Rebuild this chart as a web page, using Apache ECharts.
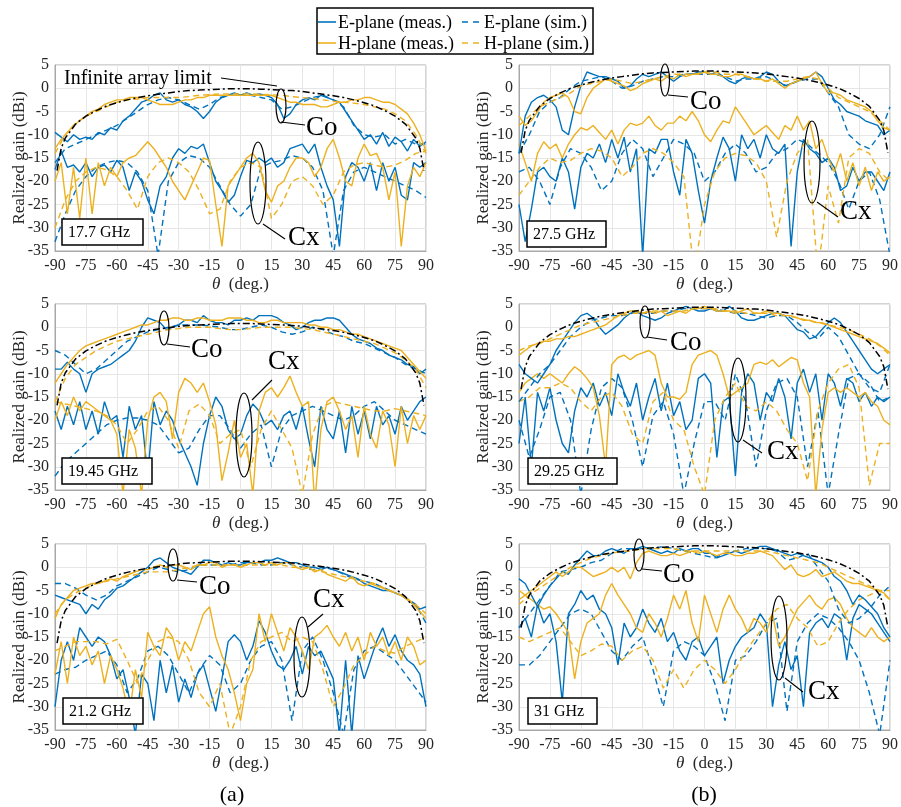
<!DOCTYPE html>
<html>
<head>
<meta charset="utf-8">
<script src="https://cdn.jsdelivr.net/npm/echarts@6/dist/echarts.min.js"></script>
<style>
  html, body { margin: 0; padding: 0; background: #fff; }
  #chart { width: 901px; height: 807px; }
</style>
</head>
<body>
<div id="chart"></div>
<script>
// angle grids (deg.)
const thM = [-90,-87,-84,-81,-78,-75,-72,-69,-66,-63,-60,-57,-54,-51,-48,-45,-42,-39,-36,-33,
  -30,-27,-24,-21,-18,-15,-12,-9,-6,-3,0,3,6,9,12,15,18,21,24,27,
  30,33,36,39,42,45,48,51,54,57,60,63,66,69,72,75,78,81,84,87,90];
const thS = [-90,-85,-80,-75,-70,-65,-60,-55,-50,-45,-40,-35,-30,-25,-20,-15,-10,-5,0,5,
  10,15,20,25,30,35,40,45,50,55,60,65,70,75,80,85,90];
const thL = [-89,-87,-85,-80,-75,-70,-65,-60,-55,-50,-45,-40,-35,-30,-25,-20,-15,-10,-5,0,
  5,10,15,20,25,30,35,40,45,50,55,60,65,70,75,80,85,87,89];

// ---- 17.7 GHz ----
const p1_lim = [-17.7,-12.9,-10.7,-7.7,-6.0,-4.8,-3.8,-3.1,-2.5,-2.0,-1.6,-1.3,-1.0,-0.7,-0.5,-0.4,-0.3,-0.2,-0.1,-0.1,
  -0.1,-0.2,-0.3,-0.4,-0.5,-0.7,-1.0,-1.3,-1.6,-2.0,-2.5,-3.1,-3.8,-4.8,-6.0,-7.7,-10.7,-12.9,-17.7];
const p1_eCoM = [-9.5,-10.5,-11.5,-10,-11,-10.5,-11,-9.5,-10,-8.5, -9,-7,-6,-4.5,-3,-2.5,-1.5,-1,-2.5,-3,
  -2.5,-3.5,-4,-5,-6.5,-5,-3,-2,-1.5,-1, -1.5,-1,-1.5,-1.2,-1.5,-2,-3.5,-6.5,-5.5,-3.5,
  -2.5,-2,-2.5,-1.5,-2,-2.5,-3,-5,-7,-9, -11,-10,-12,-9.5,-12.5,-10.5,-11.5,-13.5,-11,-12.5, -11.5];
const p1_hCoM = [-13,-11,-9.5,-8,-7,-6,-5,-4.5,-3.5,-3, -2.5,-2.5,-2,-2,-2,-2.5,-3,-3.5,-3.5,-3.5,
  -3,-2.5,-2.5,-2,-2,-1.5,-1.5,-1.5,-1.5,-1.5, -1.5,-1.5,-1.5,-1.5,-1.5,-1.5,-2,-2.5,-3,-3,
  -3.5,-3.5,-3.5,-4,-4,-3.5,-3,-3,-2.5,-2.5, -2,-2,-2.5,-3,-3,-3.5,-4.5,-5.5,-7.5,-10, -13.5];
const p1_eCoS = [-16,-13,-12,-11,-10,-9,-8,-6.5,-5,-3.5, -2.5,-2,-2.5,-3.5,-4.5,-3.5,-2,-1.5,-1.5,-1.5,
  -2,-2.5,-4.5,-4,-3,-2,-1.5,-2.5,-4,-8, -10,-10.5,-10,-12,-11,-12,-12];
const p1_hCoS = [-14,-10,-7.5,-6,-5,-4,-3,-2.5,-2.3,-2, -2,-2,-2,-1.8,-1.5,-1.4,-1.2,-1.2,-1.2,-1.2,
  -1.3,-1.4,-1.5,-1.8,-2,-2.2,-2.5,-2.8,-3,-3.2, -3.5,-4,-4.5,-5.5,-7,-10,-14];
const p1_eCxM = [-17.5,-13.5,-17,-16.5,-18,-16,-19,-17,-16.5,-18, -15.5,-17,-22,-18,-20,-24,-27,-21,-19,-15,
  -13,-14,-12.5,-13,-12,-16,-20,-22,-24.5,-23, -19,-15.5,-16,-15,-16,-15,-17,-16,-13,-12.5,
  -12,-14,-12,-17,-21,-24,-34,-19,-16,-17, -20,-16,-22,-16,-20,-17,-23,-24,-16,-17, -16];
const p1_hCxM = [-20,-16,-27,-17,-28,-15,-27,-16,-21,-17, -19,-16,-15,-14.5,-13,-11.5,-13,-15,-17,-20,
  -22,-24,-21,-18,-15,-15.5,-25,-34,-21,-19, -17,-15,-14,-16,-22,-24.5,-21,-20,-17,-15,
  -15,-16,-19,-17,-13,-11,-15,-20,-21,-15, -12,-14.5,-14,-17,-24,-18,-34,-21,-17,-19, -16];
const p1_eCxS = [-33,-27,-22,-19,-17,-16,-15.5,-16,-18,-22, -36,-20,-16,-14.5,-15,-17,-21,-25,-27.5,-25,
  -17,-16,-15.5,-14.5,-15,-17,-22,-36,-22,-18, -17,-18,-19,-20,-21,-22,-23.5];
const p1_hCxS = [-30,-24,-20,-18,-17,-17.5,-19,-22,-26,-19, -16,-15,-16,-18,-22,-27,-26,-20,-17,-16,
  -17,-28,-25,-20,-19,-21,-25,-23,-18,-16.5, -16,-16.5,-17,-16.5,-15.5,-14,-13.5];

// ---- 27.5 GHz ----
const p2_lim = [-13.9,-9.1,-6.9,-3.9,-2.2,-1.0,0.0,0.7,1.3,1.8,2.2,2.5,2.8,3.1,3.3,3.4,3.5,3.6,3.7,3.7,
  3.7,3.6,3.5,3.4,3.3,3.1,2.8,2.5,2.2,1.8,1.3,0.7,0.0,-1.0,-2.2,-3.9,-6.9,-9.1,-13.9];
const p2_eCoM = [-14,-6,-3,-2,-1.5,-2.5,-4,-9,-10,-4, 0.5,3.5,3,2.5,2.5,2,1.5,0,0.5,2,
  3,2.5,3,3.5,2.5,1.5,2.5,3,3,3.5, 3.5,3,3.5,2.5,1.5,1,2,2.5,2,2.5,
  3.5,3,1.5,0.5,1,1.5,2,2.5,3.5,2.5, 0,-2.5,-3.5,-5,-5.5,-6,-7,-7.5,-8,-10, -9];
const p2_hCoM = [-6,-8,-7,-5,-3,-2,-1.5,-1,-2,-5, -5.5,-2,0,1,2,1.5,1,0.5,-0.5,0,
  1,1.5,2,1.5,2.5,2,3,2.5,3,3, 3.5,3,3,2.5,2.5,3,3,2.5,2,2,
  1.5,2,1,0,1,1.5,2,2.5,3.5,1, -1,-1,-1.5,-2.5,-3,-3.5,-4,-5,-7,-8.5, -9];
const p2_eCoS = [-14,-10,-5,-3,-2,0,1.5,2,2.5,1.5, 0,0.5,1.5,2,2.5,2.5,3,3,3,3,
  2.5,1.5,2,2,2.5,1.5,0.5,1.5,2,2, -1,-4,-10,-12,-13,-10,-4];
const p2_hCoS = [-8,-6,-4,-3,-2,-1,0.5,1,1.5,2, 1.5,1,1.5,2,2.5,3,3,3,3.5,3.5,
  3,3,2.5,2,1.5,1.5,1.5,2,2.5,2, 0,-2,-3,-4,-5,-7,-9];
const p2_eCxM = [-25,-33,-26,-18,-17,-19,-20,-15,-18,-26, -17,-14,-15,-12,-16,-11,-15,-10.5,-18,-13,
  -36,-13,-14,-11,-11,-18,-23,-11,-14,-22, -29,-20,-15,-10.5,-13,-20,-10,-13,-11,-15,
  -10,-13,-14,-12,-34,-18,-11,-13,-14,-16, -15,-17,-22,-21,-17,-20,-18,-18,-20,-22, -18];
const p2_hCxM = [-12,-16,-20,-14,-11.5,-13,-12,-15,-12,-10, -8.5,-9,-8,-9.5,-11,-9,-12,-9,-7.5,-8,
  -7.5,-6,-8,-9,-7.5,-7.5,-6,-7,-5,-7, -10,-11.5,-9,-7,-7.5,-4,-6,-8,-10,-9,
  -8,-9.5,-11,-8,-9,-6,-9,-7,-13,-11, -15,-18,-14,-20,-16,-21,-17,-22,-18,-20, -19];
const p2_eCxS = [-18,-17,-20,-25,-17,-13,-14,-17,-22,-20, -14,-11,-13,-19,-15,-11,-12,-14,-20,-18,
  -14,-12,-14,-18,-17,-14,-13,-11,-12,-14, -16,-20,-26,-20,-18,-24,-36];
const p2_hCxS = [-23,-20,-17,-15,-16,-15.5,-14,-13,-13.5,-15, -19,-17,-14,-13,-14,-16,-19,-40,-25,-18,
  -15,-14,-14.5,-16,-20,-32,-20,-14,-11,-40, -21,-29,-15,-13,-14,-18,-20];

// ---- 19.45 GHz ----
const p3_lim = [-16.8,-12.0,-9.8,-6.8,-5.1,-3.9,-2.9,-2.2,-1.6,-1.1,-0.7,-0.4,-0.1,0.2,0.4,0.5,0.6,0.7,0.8,0.8,
  0.8,0.7,0.6,0.5,0.4,0.2,-0.1,-0.4,-0.7,-1.1,-1.6,-2.2,-2.9,-3.9,-5.1,-6.8,-9.8,-12.0,-16.8];
const p3_eCoM = [-9,-9,-7.5,-9,-10,-14,-10,-9,-8.5,-8, -7,-6,-5,-3,0,2,1.5,1,-0.5,0,
  0.5,1.5,1.5,1,2.5,1.5,1,1,0.5,1.5, 1.5,2,1.5,2.5,2.5,2.5,2,1,0.5,-0.5,
  0,1,1.5,1.5,2,2,1.5,0,-1.5,-2.5, -3,-3.5,-4.5,-5,-6,-6.5,-7,-8,-8.5,-10, -9];
const p3_hCoM = [-12,-10,-8,-6.5,-5,-4,-3.5,-3,-2.5,-2, -1.5,-1,-0.5,0,0.5,0.5,1,1.5,1.5,2,
  2,1.5,1.5,2,2,1.5,1.5,1.5,2,2, 2,1.5,1.5,1,1,1.5,1.5,1,1,1,
  1,0.5,0.5,0,0,-0.5,-0.5,-1,-1.5,-1.5, -2,-2.5,-3,-3.5,-4,-4.5,-5,-6.5,-8,-9.5, -11];
const p3_eCoS = [-5,-6,-8,-10,-9,-7,-5,-3,-2,-1, -0.5,0,0.5,0.5,0.5,0.3,0,-0.5,-0.5,0,
  0.5,0,-1,-1.5,-1,0,-0.5,-1.5,-2,-3, -3.5,-4.5,-5.5,-6.5,-8,-9,-10];
const p3_hCoS = [-16,-11,-8,-6.5,-5,-4,-3,-2.5,-2,-1.5, -1,-0.5,-0.3,0,0,0,-0.3,-0.5,-0.5,-0.3,
  0,0,0,0,-0.3,-0.5,-1,-1.5,-2,-2.5, -3,-3.5,-4.5,-5.5,-7,-9,-13];
const p3_eCxM = [-18,-22,-17,-21,-16,-22,-18,-23,-16,-20, -19,-28,-17,-22,-19,-32,-16,-21,-18,-20,
  -24,-27,-30,-34,-25,-19,-15,-17,-22,-24, -23,-19,-16.5,-18,-21,-20,-22,-19,-18,-22,
  -17,-24,-30,-17,-22,-24,-18,-27,-17,-23, -18,-24,-17,-21,-19,-23,-17,-20,-18,-16, -15];
const p3_hCxM = [-20,-16,-19,-15,-18,-16,-17,-18,-19,-20, -23,-36,-22,-26,-36,-20,-15,-14,-16,-24,
  -14,-11,-12,-14,-12,-16,-21,-33,-27,-20, -28,-25,-36,-18,-14,-13,-15,-13,-10.5,-14,
  -17,-16,-38,-22,-16,-15,-18,-22,-19,-28, -17,-23,-26,-18,-21,-30,-17,-25,-19,-22, -19];
const p3_eCxS = [-32,-29,-27,-25,-23,-21,-20,-19.5,-19.5,-20, -21,-24,-27,-26,-22,-19,-19,-22,-26,-23,
  -21,-30,-22,-19,-18,-17,-18,-19,-20,-19, -17,-16,-18,-20,-21,-22,-23];
const p3_hCxS = [-16,-16.5,-17,-17.5,-18,-19,-21,-25,-22,-18, -17,-20,-26,-18,-16.5,-19,-25,-23,-22,-30,
  -22,-18,-22,-26,-36,-23,-17,-16,-16.5,-17, -17.5,-18,-18,-17.5,-18,-18.5,-19];

// ---- 29.25 GHz ----
const p4_lim = [-13.3,-8.5,-6.3,-3.3,-1.6,-0.4,0.6,1.3,1.9,2.4,2.8,3.1,3.4,3.7,3.9,4.0,4.1,4.2,4.3,4.3,
  4.3,4.2,4.1,4.0,3.9,3.7,3.4,3.1,2.8,2.4,1.9,1.3,0.6,-0.4,-1.6,-3.3,-6.3,-8.5,-13.3];
const p4_eCoM = [-8,-10,-11,-12,-10,-8,-5,-3,-1,1, 2.5,3,2,0,-1.5,-0.5,0.5,2,3,3.5,
  2.5,2,1.5,2,3,3.5,4,4.5,4,3.5, 3.5,4,3.5,3.5,4.5,3.5,2,1.5,1.5,2,
  2.5,3,3,2.5,1,-0.5,-1,-2.5,-2,-0.5, 1,2,1,-1,-3,-5,-7,-9,-10,-9, -8];
const p4_hCoM = [-6,-5,-4,-3.5,-3,-3,-2.5,-2.5,-2,-2, -1.5,-1,-0.5,0,0.5,1.5,2.5,3,3.5,3.5,
  3,3.5,3,3.5,2.5,3,3.5,3,4,4, 4.5,4,3.5,3.5,3.5,3,3.5,4,3,3,
  3.5,3,3,2.5,2.5,2,1.5,1.5,1,1, 0.5,0,-0.5,-1,-1.5,-2,-2.5,-3,-3.5,-4.5, -5.5];
const p4_eCoS = [-16,-13,-10,-8,-5,-2,0,1.5,2,2.5, 2.5,3,3,3,3.5,3.5,4,4,4,4,
  3.5,3,3,2.5,2,2.5,2.5,1,-1,-2.5, 0,-2,-6,-10,-13,-14,-8];
const p4_hCoS = [-5,-4,-3.5,-2.5,-1.5,-0.5,0.5,1,1.5,2, 2.5,3,3,3.5,3.5,3.5,3.5,4,4,4,
  3.5,3.5,3,3,3,2.5,2.5,2,1.5,1, 0.5,0,-0.5,-1.5,-2.5,-4,-6];
const p4_eCxM = [-25,-15,-30,-14,-18,-13,-20,-25,-27,-18, -13,-15,-12,-17,-14,-19,-10,-14,-17,-12,
  -20,-15,-11,-18,-12,-19,-16,-22,-20,-11, -10,-12,-28,-16,-15,-32,-14,-10,-12,-20,
  -14,-16,-11,-15,-24,-12,-9,-14,-10,-20, -10,-12,-17,-11,-12,-16,-14,-17,-15,-16, -15];
const p4_hCxM = [-14,-12,-11,-10,-11,-10,-11,-12,-10,-8.5, -9.5,-11,-13,-19,-30,-8,-6.5,-6,-7,-6,
  -5.5,-5,-6,-12,-15,-15,-15.5,-14,-8,-6, -5.5,-5,-6,-10,-15,-14,-13,-12,-8,-7.5,
  -8,-7,-8.5,-7.5,-6.5,-7,-12,-15,-36,-22, -14,-13,-14,-13,-14,-15,-14,-16,-17,-20, -21];
const p4_eCxS = [-20,-28,-22,-15,-14,-20,-36,-22,-13,-11, -13,-20,-30,-19,-16,-23,-36,-25,-16,-16,
  -20,-10,-16,-30,-18,-12,-11,-15,-30,-18, -36,-23,-11,-10,-12,-16,-15];
const p4_hCxS = [-16,-15,-13,-13,-12,-13,-16,-18,-15,-14, -17,-23,-25,-16,-14,-20,-22,-30,-36,-20,
  -15,-12,-17,-18,-16,-18,-22,-25,-33,-18, -12,-9,-8,-13,-34,-25,-25];

// ---- 21.2 GHz ----
const p5_lim = [-16.3,-11.5,-9.3,-6.3,-4.6,-3.4,-2.4,-1.7,-1.1,-0.6,-0.2,0.1,0.4,0.7,0.9,1.0,1.1,1.2,1.3,1.3,
  1.3,1.2,1.1,1.0,0.9,0.7,0.4,0.1,-0.2,-0.6,-1.1,-1.7,-2.4,-3.4,-4.6,-6.3,-9.3,-11.5,-16.3];
const p5_eCoM = [-6,-6.5,-7,-7.5,-8,-10,-8,-9,-7,-6, -4.5,-4,-3,-2,-1,0,1.5,2,1,0,
  -0.5,-1,-1.5,0,1.5,1.5,1,0.5,1,0.5, 0.5,1,1,1,1.5,1.5,2,1.5,1,1,
  0.5,0,0,-0.5,0,-0.5,-1,-1.5,-2,-2.5, -3.5,-4,-4.5,-5,-5,-5.5,-6,-7,-8,-9, -8.5];
const p5_hCoM = [-11,-8,-6.5,-5,-4.5,-4,-3.5,-3.5,-3,-2.5, -3,-2,-1.5,-1,-0.5,-0.5,0,0.5,0,0.5,
  0.5,0,-0.5,0.5,0.5,1,1,0,0.5,0.5, 0,0.5,1,1,0.5,1,0.5,1,1,0,
  -0.5,0,-1,-0.5,-1.5,-2,-2.5,-3,-2,-3.5, -4,-3.5,-4,-4.5,-5,-5.5,-6,-7,-8,-9.5, -11];
const p5_eCoS = [-3.5,-3.5,-4.5,-6,-7,-6,-4,-3,-2,-1, 0,-0.5,-1,-0.5,0.5,0.5,0.5,0.5,1,1,
  0.5,0.5,1,0.5,0,-0.5,0,-0.5,-1.5,-2.5, -3,-3.5,-4.5,-5.5,-6.5,-8,-12];
const p5_hCoS = [-10,-7,-5.5,-4.5,-3.5,-3,-2.5,-2,-1.5,-1, -1,-1,-0.5,0,0.5,0.5,0.5,0.5,0.5,0.5,
  0.5,0.5,0.5,0,0,-0.5,-1,-1.5,-2,-2.5, -3,-3.5,-4.5,-5.5,-6.5,-8,-10];
const p5_eCxM = [-30,-20,-16,-20,-13,-15,-17,-15,-16,-19, -24,-22,-28,-36,-23,-25,-33,-20,-27,-21,
  -29,-24,-28,-23,-21,-26,-31,-24,-16,-14.5, -16,-20,-17,-11.5,-14,-18,-21,-22,-20,-17,
  -23,-17,-19,-18,-21,-24,-36,-20,-36,-19, -24,-20,-16,-13,-17,-14.5,-18,-20,-21,-23, -30];
const p5_hCxM = [-23,-16,-25,-15,-19,-17,-21,-18,-25,-19, -22,-26,-32,-22,-28,-14,-17,-19,-13,-15,
  -20,-16,-18,-14,-10,-8.5,-15,-19,-22,-27, -33,-25,-22,-10,-16,-10,-14,-18,-13,-15,
  -18,-22,-15,-14,-12.5,-15,-17,-14,-18,-15, -20,-14,-17,-15,-19,-16,-20,-15,-17,-21, -20];
const p5_eCxS = [-23,-22,-21.5,-20,-19,-18,-21,-27,-24,-18, -17,-19,-23,-27,-22,-19,-21,-27,-25,-20,
  -17,-16,-20,-33,-18,-15,-20,-27,-36,-22, -18,-17,-18.5,-20,-23,-26,-29];
const p5_hCxS = [-18,-17,-16,-16,-16,-16.5,-15.5,-20,-25,-20, -16,-15,-16,-20,-27,-30,-25,-36,-30,-20,
  -16,-15,-14,-16,-15,-16,-22,-30,-26,-21, -19,-17,-18,-18.5,-17,-16,-15];

// ---- 31 GHz ----
const p6_lim = [-13.0,-8.2,-6.0,-3.0,-1.3,-0.1,0.9,1.6,2.2,2.7,3.1,3.4,3.7,4.0,4.2,4.3,4.4,4.5,4.6,4.6,
  4.6,4.5,4.4,4.3,4.2,4.0,3.7,3.4,3.1,2.7,2.2,1.6,0.9,-0.1,-1.3,-3.0,-6.0,-8.2,-13.0];
const p6_eCoM = [-2.5,-3.5,-6,-8.5,-6,-4,-2.5,-1,-1.5,0.5, 2,3.5,2.5,2.5,3.5,4,3.5,3,4,4,
  4.5,4,3.5,3,3.5,3,4,3.5,4,4, 3,3,2,2.5,3,3.5,3,3.5,4,4.5,
  4.5,4,3.5,3,2.5,3,2.5,2,1.5,1, 0,-2,-3,-5,-8,-6,-7,-8.5,-10,-13, -15];
const p6_hCoM = [-7,-6,-5,-4,-3,-2,-1,-2,-1,0, 0,-1,-2,-1.5,-1,0,-1,0,-2.5,1,
  3,3.5,3,2.5,2.5,3,2.5,3,3.5,3, 3.5,3,2.5,3,3,2.5,2.5,3,3,3.5,
  3,2.5,1,-0.5,0.5,-1.5,-2,-1.5,-0.5,-2, -1.5,-1,-2,-3,-3.5,-3.5,-4,-4.5,-5,-5.5, -7];
const p6_eCoS = [-13,-10,-7,-4,-1,-0.5,0,1,1.5,3, 4,4,4,4,4.5,4,3.5,3,2.5,2,
  3,3.5,4,4,4,3.5,1.5,2,3,0, -3,-9,-12,-11,-9,-6,-4];
const p6_hCoS = [-8,-6,-4.5,-3,-1.5,0,1,2,2.5,3, 3.5,3.5,4,4,4,4,3.5,3.5,3.5,3.5,
  3.5,3.5,3.5,3.5,3.5,3,2.5,2,1.5,1, 0,-1,-2,-3,-4,-5,-7];
const p6_eCxM = [-13,-11,-15,-8,-12,-10,-16,-29,-10,-8, -5,-7,-6,-9,-10,-13,-21,-12,-15,-13,
  -9,-12,-14,-11,-16,-14,-18,-20,-16,-15, -19,-17,-15,-25,-20,-17,-15,-14,-13,-10,
  -12,-30,-21,-16,-22,-19,-30,-14,-12,-11, -13,-10,-11,-20,-11,-8,-9,-10,-12,-14, -16];
const p6_hCxM = [-5,-6,-7,-8,-9,-8.5,-10,-12,-14,-24, -16,-12,-11,-10,-6,-3.5,-6,-8,-10,-13,
  -14,-10,-12,-15,-11,-6,-9,-5,-12,-16, -6,-10,-14,-9,-6,-9,-11,-14,-11,-12,
  -14,-10,-17,-15,-12,-9,-7.5,-6,-8,-9, -7,-6.5,-8,-11,-13,-14,-15,-13,-15,-16, -15];
const p6_eCxS = [-21,-21,-19,-16,-13,-10,-9,-10,-14,-18, -20,-17,-15,-22,-30,-18,-16,-17,-19,-25,
  -33,-20,-19,-16,-12,-11,-31,-16,-12,-10, -11,-13,-16,-20,-27,-36,-20];
const p6_hCxS = [-15,-16,-15,-14,-13,-16,-19,-18,-16.5,-17, -20,-18,-17,-20,-26,-22,-26,-22,-20,-22,
  -25,-22,-18,-15,-12,-9,-8,-11,-13,-17, -16,-12,-9,-7,-6,-5,-5];

const freqs = ['17.7 GHz', '19.45 GHz', '21.2 GHz', '27.5 GHz', '29.25 GHz', '31 GHz'];
const legendNames = ['E-plane (meas.)', 'E-plane (sim.)', 'H-plane (meas.)', 'H-plane (sim.)'];

// panels in grid order: left column top->bottom, then right column
const panels = [
  { lim: p1_lim, eCoM: p1_eCoM, eCoS: p1_eCoS, hCoM: p1_hCoM, hCoS: p1_hCoS, eCxM: p1_eCxM, eCxS: p1_eCxS, hCxM: p1_hCxM, hCxS: p1_hCxS },
  { lim: p3_lim, eCoM: p3_eCoM, eCoS: p3_eCoS, hCoM: p3_hCoM, hCoS: p3_hCoS, eCxM: p3_eCxM, eCxS: p3_eCxS, hCxM: p3_hCxM, hCxS: p3_hCxS },
  { lim: p5_lim, eCoM: p5_eCoM, eCoS: p5_eCoS, hCoM: p5_hCoM, hCoS: p5_hCoS, eCxM: p5_eCxM, eCxS: p5_eCxS, hCxM: p5_hCxM, hCxS: p5_hCxS },
  { lim: p2_lim, eCoM: p2_eCoM, eCoS: p2_eCoS, hCoM: p2_hCoM, hCoS: p2_hCoS, eCxM: p2_eCxM, eCxS: p2_eCxS, hCxM: p2_hCxM, hCxS: p2_hCxS },
  { lim: p4_lim, eCoM: p4_eCoM, eCoS: p4_eCoS, hCoM: p4_hCoM, hCoS: p4_hCoS, eCxM: p4_eCxM, eCxS: p4_eCxS, hCxM: p4_hCxM, hCxS: p4_hCxS },
  { lim: p6_lim, eCoM: p6_eCoM, eCoS: p6_eCoS, hCoM: p6_hCoM, hCoS: p6_hCoS, eCxM: p6_eCxM, eCxS: p6_eCxS, hCxM: p6_hCxM, hCxS: p6_hCxS }
];

// sanity check on hand-typed lengths
panels.forEach((p, i) => {
  const bad = [];
  ['eCoM','hCoM','eCxM','hCxM'].forEach(k => { if (p[k].length !== thM.length) bad.push(k + ':' + p[k].length); });
  ['eCoS','hCoS','eCxS','hCxS'].forEach(k => { if (p[k].length !== thS.length) bad.push(k + ':' + p[k].length); });
  if (p.lim.length !== thL.length) bad.push('lim:' + p.lim.length);
  if (bad.length) throw new Error('panel ' + i + ' ' + bad.join(', '));
});

const FONT = "'Liberation Serif', 'Times New Roman', serif";
const BLUE = '#0072BD';
const YELLOW = '#EDB120';
const DASH = [6, 4];
const DASHDOT = [7, 3, 2, 3];

// plot area boxes [left, top, width, height]
const boxes = [
  [55, 65, 371, 186], [55, 304, 371, 186], [55, 544, 371, 186],
  [519, 65, 372, 186], [519, 304, 372, 186], [519, 544, 372, 186]
];

// annotation geometry per panel (pixels)
const notes = [
  { box: [62, 219, 81], co: [281, 106, 5, 17], coL: [281, 122, 305, 125], coT: [306, 128],
    cx: [258, 183, 8, 41], cxL: [263, 224, 285, 239], cxT: [288, 238] },
  { box: [62, 458, 90], co: [164, 328, 5, 17], coL: [167, 344, 190, 347], coT: [191, 350],
    cx: [244, 435, 8, 42], cxL: [252, 400, 272, 380], cxT: [268, 362] },
  { box: [63, 698, 80], co: [173, 565, 5, 16], coL: [177, 580, 197, 582], coT: [199, 587],
    cx: [302, 657, 8, 40], cxL: [308, 627, 323, 614], cxT: [313, 600] },
  { box: [527, 221, 79], co: [665, 80, 4.5, 16], coL: [668, 95, 688, 97], coT: [690, 102],
    cx: [812, 162, 8, 41], cxL: [817, 202, 838, 217], cxT: [840, 212] },
  { box: [528, 458, 89], co: [645, 322, 5, 16], coL: [647, 337, 667, 340], coT: [670, 343],
    cx: [738, 400, 8, 42], cxL: [743, 440, 762, 453], cxT: [767, 452] },
  { box: [528, 698, 69], co: [639, 555, 5, 16], coL: [642, 569, 662, 571], coT: [663, 575],
    cx: [779, 638, 8, 42], cxL: [785, 678, 803, 692], cxT: [808, 692] }
];

function pts(xs, ys) { return xs.map((x, i) => [x, ys[i]]); }

const grids = [], xAxes = [], yAxes = [], series = [];
boxes.forEach((b, i) => {
  grids.push({ left: b[0], top: b[1], width: b[2], height: b[3], show: true,
    borderColor: '#a8a8a8', borderWidth: 1, backgroundColor: 'transparent' });
  xAxes.push({
    gridIndex: i, type: 'value', min: -90, max: 90, interval: 15,
    axisLine: { show: true, onZero: false, lineStyle: { color: '#a8a8a8' } },
    axisTick: { show: false },
    axisLabel: { fontFamily: FONT, fontSize: 16, color: '#262626', margin: 7 },
    splitLine: { show: true, lineStyle: { color: '#e6e6e6', width: 1 } },
    name: '{i|θ}  (deg.)', nameLocation: 'middle', nameGap: 25, nameMoveOverlap: false,
    nameTextStyle: { fontFamily: FONT, fontSize: 17, color: '#262626',
      rich: { i: { fontFamily: FONT, fontSize: 17, fontStyle: 'italic', color: '#262626' } } }
  });
  yAxes.push({
    gridIndex: i, type: 'value', min: -35, max: 5, interval: 5,
    axisLine: { show: true, onZero: false, lineStyle: { color: '#a8a8a8' } },
    axisTick: { show: false },
    axisLabel: { fontFamily: FONT, fontSize: 16, color: '#262626', margin: 6 },
    splitLine: { show: true, lineStyle: { color: '#e6e6e6', width: 1 } },
    name: 'Realized gain (dBi)', nameLocation: 'middle', nameGap: 27, nameRotate: 90,
    nameMoveOverlap: false,
    nameTextStyle: { fontFamily: FONT, fontSize: 17, color: '#262626' }
  });

  const p = panels[i];
  const add = (name, xs, ys, color, type, width) => series.push({
    name, type: 'line', xAxisIndex: i, yAxisIndex: i, data: pts(xs, ys),
    symbol: 'none', showSymbol: false, clip: true, silent: true,
    lineStyle: { color, width: width || 1.4, type }, itemStyle: { color }
  });
  add(legendNames[0], thM, p.eCxM, BLUE, 'solid');
  add(legendNames[1], thS, p.eCxS, BLUE, DASH);
  add(legendNames[2], thM, p.hCxM, YELLOW, 'solid');
  add(legendNames[3], thS, p.hCxS, YELLOW, DASH);
  add(legendNames[0], thM, p.eCoM, BLUE, 'solid');
  add(legendNames[1], thS, p.eCoS, BLUE, DASH);
  add(legendNames[2], thM, p.hCoM, YELLOW, 'solid');
  add(legendNames[3], thS, p.hCoS, YELLOW, DASH);
  add('Infinite array limit', thL, p.lim, '#000', DASHDOT, 1.5);
});

// annotations: ellipses, leader lines, Co/Cx labels, frequency boxes
const graphic = [];
const txt = (x, y, text, size, align) => ({ type: 'text', x, y, z: 101,
  style: { text, fontFamily: FONT, fontSize: size, fill: '#000', verticalAlign: 'middle', align: align || 'left' } });
const seg = (x1, y1, x2, y2, color, width, dash) => ({ type: 'line', z: 101,
  shape: { x1, y1, x2, y2 }, style: { stroke: color, lineWidth: width, lineDash: dash || null } });

notes.forEach((n, i) => {
  [n.co, n.cx].forEach(e => graphic.push({ type: 'ellipse', z: 100,
    shape: { cx: e[0], cy: e[1], rx: e[2], ry: e[3] },
    style: { fill: 'none', stroke: '#000', lineWidth: 1.2 } }));
  graphic.push(seg(n.coL[0], n.coL[1], n.coL[2], n.coL[3], '#000', 1.1));
  graphic.push(seg(n.cxL[0], n.cxL[1], n.cxL[2], n.cxL[3], '#000', 1.1));
  graphic.push(txt(n.coT[0], n.coT[1], 'Co', 27));
  graphic.push(txt(n.cxT[0], n.cxT[1], 'Cx', 27));
  graphic.push({ type: 'rect', z: 100, shape: { x: n.box[0], y: n.box[1], width: n.box[2], height: 26 },
    style: { fill: '#fff', stroke: '#000', lineWidth: 1.5 } });
  graphic.push(txt(n.box[0] + 6, n.box[1] + 14, freqs[i], 16));
});
graphic.push(txt(64, 79, 'Infinite array limit', 20));
graphic.push(seg(221, 78, 277, 86, '#000', 1.1));
graphic.push(txt(232, 795, '(a)', 22, 'center'));
graphic.push(txt(704, 795, '(b)', 22, 'center'));

// legend box (drawn by hand so line samples match MATLAB style)
graphic.push({ type: 'rect', z: 100, shape: { x: 317, y: 8, width: 276, height: 46 },
  style: { fill: '#fff', stroke: '#000', lineWidth: 1.5 } });
const legRows = [[22, BLUE, 0], [43, YELLOW, 2]];
legRows.forEach(([y, c, k]) => {
  graphic.push(seg(318, y, 336, y, c, 1.6));
  graphic.push(txt(338, y + 1, legendNames[k], 18));
  graphic.push(seg(462, y, 482, y, c, 1.6, [6, 5]));
  graphic.push(txt(484, y + 1, legendNames[k + 1], 18));
});

const chart = echarts.init(document.getElementById('chart'), null, { renderer: 'canvas' });
chart.setOption({
  animation: false,
  backgroundColor: '#fff',
  grid: grids,
  xAxis: xAxes,
  yAxis: yAxes,
  series,
  graphic
});
</script>
</body>
</html>
